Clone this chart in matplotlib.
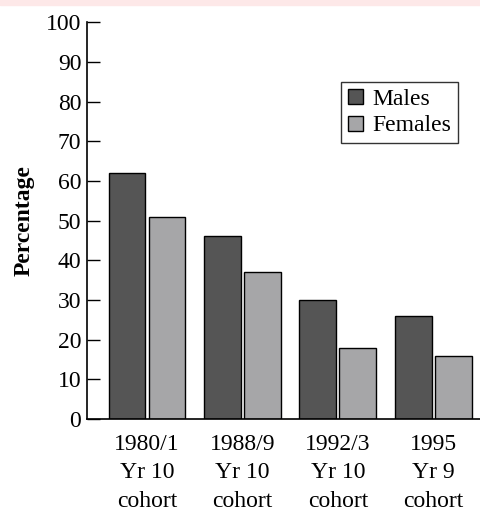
import matplotlib.pyplot as plt
import matplotlib.patches as mpatches
import numpy as np

groups = ["1980/1\nYr 10\ncohort", "1988/9\nYr 10\ncohort", "1992/3\nYr 10\ncohort", "1995\nYr 9\ncohort"]
males = [62, 46, 30, 26]
females = [51, 37, 18, 16]

plt.rcParams['font.family'] = ['Liberation Serif', 'DejaVu Serif']

fig = plt.figure(figsize=(4.8, 5.12), dpi=100)
fig.patches.append(mpatches.Rectangle((0, 1 - 5/512), 1, 5/512, transform=fig.transFigure,
                                      color='#fde8e8', zorder=0))
ax = fig.add_axes([0.181, 0.1816, 0.819, 0.775])

x = np.arange(len(groups))
w = 0.385
ax.bar(x - 0.21, males, w, color='#555555', edgecolor='black', linewidth=1, label='Males')
ax.bar(x + 0.21, females, w, color='#a6a6a8', edgecolor='black', linewidth=1, label='Females')

ax.set_xlim(-0.63, 3.49)
ax.set_ylim(0, 100)
ax.set_yticks(range(0, 101, 10))
ax.set_xticks(x)
ax.set_xticklabels(groups, fontsize=17, linespacing=1.45)
ax.tick_params(axis='x', length=0, pad=11)
ax.tick_params(axis='y', labelsize=17, length=9, width=1, direction='in', pad=4)
for s in ['top', 'right']:
    ax.spines[s].set_visible(False)
ax.spines['left'].set_linewidth(1.2)
ax.spines['bottom'].set_linewidth(1.2)
ax.set_ylabel("Percentage", fontsize=17, fontweight='bold', labelpad=8)

leg = ax.legend(loc='upper right', bbox_to_anchor=(0.944, 0.849), fontsize=17, frameon=True,
                fancybox=False, edgecolor='black', handlelength=0.6, handleheight=0.6,
                handletextpad=0.4, borderpad=0.3, labelspacing=0.22, borderaxespad=0)
leg.get_frame().set_linewidth(1)

fig.savefig("out.png", dpi=100)
